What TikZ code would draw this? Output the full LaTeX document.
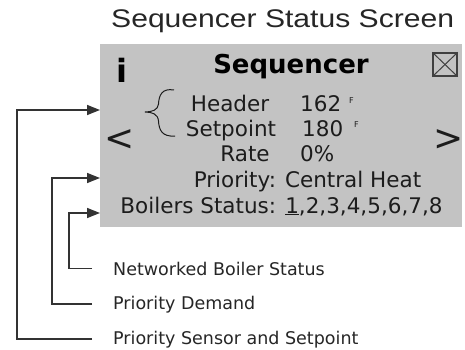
\documentclass[tikz,border=0pt]{standalone}
\usepackage{fontspec}
\usepackage{graphicx}
\usetikzlibrary{arrows.meta,positioning,calc}
\setmainfont{DejaVu Sans}
\newfontfamily\titlefont{Liberation Sans}
\definecolor{screengray}{RGB}{195,195,195}
\definecolor{inkgray}{RGB}{28,28,28}

\begin{document}
\begin{tikzpicture}[x=1pt, y=-1pt, inner sep=0pt, txt/.style={anchor=base, text=inkgray, font=\fontsize{21.5}{25}\selectfont}, val/.style={txt, anchor=base west}, unit/.style={anchor=base west, text=inkgray, font=\fontsize{8}{9}\selectfont}, lbl/.style={anchor=base west, text=black!85, font=\fontsize{17.5}{21}\selectfont}, arr/.style={-{Triangle[length=13pt,width=10pt]}, line width=1.5pt, black!80}]
\useasboundingbox (0,0) rectangle (465,350);
\node[fill=screengray, minimum width=362pt, minimum height=183pt, anchor=north west] (screen) at (100,44) {};
\node[anchor=base west, text=black!85, font=\titlefont\fontsize{25.5}{30}\selectfont] (title) at (111,28) {\scalebox{1.18}[1]{Sequencer Status Screen}};
\node[txt, text=black, font=\bfseries\fontsize{26}{30}\selectfont] (heading) at (291,74) {Sequencer};
\node[txt, text=black, font=\bfseries\fontsize{32}{36}\selectfont] (info) at (122,83) {i};
\node[draw=black!75, line width=1.3pt, minimum width=24pt, minimum height=23pt] (close) at (445,64.5) {};
\draw[black!75, line width=1pt] (close.north west) -- (close.south east) (close.north east) -- (close.south west);
\node[txt, font=\fontsize{36}{40}\selectfont] (prev) at (120,150.5) {<};
\node[txt, font=\fontsize{36}{40}\selectfont] (next) at (449,150.5) {>};
\draw[inkgray, line width=1pt] (174,90) .. controls (162,88) and (159,95) .. (158.5,104) .. controls (158,110) and (152,112) .. (145,112) .. controls (152,112) and (158,114) .. (158.5,121) .. controls (159,130) and (162,137) .. (175,136);
\node[txt] (header) at (230,111) {Header};
\node[val] (headerval) at (300,111) {162};
\node[unit] (headerunit) at (349,103) {F};
\node[txt] (setpoint) at (231,136) {Setpoint};
\node[val] (setpointval) at (302,136) {180};
\node[unit] (setpointunit) at (354,128) {F};
\node[txt] (rate) at (245,161) {Rate};
\node[val] (rateval) at (300,161) {0\%};
\node[txt] (priority) at (307.5,187) {Priority: Central Heat};
\node[txt] (boilers) at (281.5,213) {Boilers Status: \underline{1},2,3,4,5,6,7,8};
\node[lbl] (netstatus) at (113,275) {Networked Boiler Status};
\node[lbl] (demand) at (113,309) {Priority Demand};
\node[lbl] (sensor) at (113,344) {Priority Sensor and Setpoint};
\draw[arr] ([xshift=-21pt]sensor.west) -| (17,110) -- (screen.west |- 0,110);
\draw[arr] ([xshift=-21pt]demand.west) -| (52,178) -- (screen.west |- 0,178);
\draw[arr] ([xshift=-21pt]netstatus.west) -| (69,213) -- (screen.west |- 0,213);
\end{tikzpicture}
\end{document}
